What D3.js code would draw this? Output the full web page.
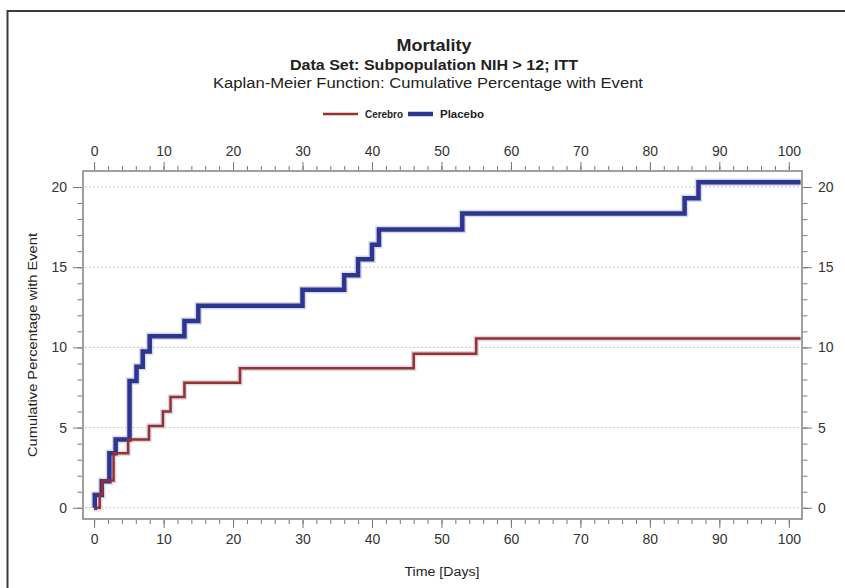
<!DOCTYPE html>
<html>
<head>
<meta charset="utf-8">
<script src="https://cdn.jsdelivr.net/npm/d3@7"></script>
<style>
  body { margin: 0; background: #fff; }
  svg { display: block; font-family: "Liberation Sans", Arial, sans-serif; }
  .axis text { fill: #333; font-size: 14px; }
  .axis line { stroke: #777; }
  .axis path { display: none; }
</style>
</head>
<body>
<svg id="chart"></svg>
<script>
// Kaplan-Meier cumulative % with event
const cerebroDays = [0, 0.8, 1.2, 2.8, 4.9, 7.9, 9.9, 11, 13, 21, 46, 55]
const cerebroPct = [0, 0.86, 1.7, 3.4, 4.25, 5.1, 6.0, 6.9, 7.8, 8.7, 9.6, 10.55]
const placeboDays = [0, 0.1, 1.1, 2.2, 3.1, 5.1, 6.1, 7, 8, 13, 15, 30, 36, 38, 40, 41, 53, 85, 87]
const placeboPct = [0, 0.8, 1.65, 3.4, 4.25, 7.9, 8.8, 9.75, 10.7, 11.65, 12.6, 13.6, 14.5, 15.5, 16.4, 17.35, 18.35, 19.3, 20.3]
const lastDay = 101.7

const xTicks = [0, 10, 20, 30, 40, 50, 60, 70, 80, 90, 100]
const yTicks = [0, 5, 10, 15, 20]

const width = 845, height = 588
const box = {left: 83, right: 802, top: 171, bottom: 519}

const svg = d3.select('#chart').attr('width', width).attr('height', height)

// outer frame (only top and left edges show)
svg.append('path')
  .attr('d', `M7.5,${height} V11 H${width}`)
  .attr('fill', 'none')
  .attr('stroke', '#3a3a3a')
  .attr('stroke-width', 2)

let x = d3.scaleLinear().domain([-1.6, 101.9]).range([box.left, box.right])
let y = d3.scaleLinear().domain([-0.7, 21.0]).range([box.bottom, box.top])

// stretched text: the original font is a little wider than Liberation Sans
function label(px, py, str, size, bold, len, rotate) {
  let t = svg.append('text').attr('text-anchor', 'middle')
    .attr('font-size', size).attr('fill', '#222')
    .attr('font-weight', bold ? 'bold' : 'normal')
    .attr('textLength', len).attr('lengthAdjust', 'spacingAndGlyphs')
    .text(str)
  if (rotate) t.attr('transform', `translate(${px},${py}) rotate(-90)`)
  else t.attr('x', px).attr('y', py)
  return t
}

// titles
label(434, 51, 'Mortality', 17, true, 75)
label(434, 70, 'Data Set: Subpopulation NIH > 12; ITT', 14, true, 288)
label(428, 88, 'Kaplan-Meier Function: Cumulative Percentage with Event', 14, false, 430)

// legend
let legend = [
  {name: 'Cerebro', color: '#9a2f2f', w: 2.5, x0: 323, x1: 358, tx: 365, tw: 38},
  {name: 'Placebo', color: '#2e3590', w: 4.5, x0: 408, x1: 433, tx: 440, tw: 44}
]
legend.forEach(d => {
  svg.append('line').attr('x1', d.x0).attr('x2', d.x1).attr('y1', 114).attr('y2', 114)
    .attr('stroke', d.color).attr('stroke-width', d.w)
  svg.append('text').attr('x', d.tx).attr('y', 118).attr('font-size', 11)
    .attr('font-weight', 'bold').attr('fill', '#222')
    .attr('textLength', d.tw).attr('lengthAdjust', 'spacingAndGlyphs').text(d.name)
})

// grid
svg.append('g').selectAll('line').data(yTicks).enter().append('line')
  .attr('x1', box.left + 2).attr('x2', box.right - 2)
  .attr('y1', d => y(d)).attr('y2', d => y(d))
  .attr('stroke', '#c8c8c8').attr('stroke-dasharray', '2,2')

// axes: majors + minors on all four sides
function addAxis(axisFn, scale, majors, minors, transform, size) {
  let g = svg.append('g').attr('class', 'axis').attr('transform', transform)
  g.call(axisFn(scale).tickValues(minors).tickSize(size / 2).tickFormat(''))
  let g2 = svg.append('g').attr('class', 'axis').attr('transform', transform)
  g2.call(axisFn(scale).tickValues(majors).tickSize(size).tickPadding(6))
  return g2
}
let xMinor = d3.range(0, 101, 2)
let yMinor = d3.range(0, 21, 1)
addAxis(d3.axisBottom, x, xTicks, xMinor, `translate(0,${box.bottom + 1})`, 8)
addAxis(d3.axisTop, x, xTicks, xMinor, `translate(0,${box.top - 1})`, 8)
addAxis(d3.axisLeft, y, yTicks, yMinor, `translate(${box.left - 1},0)`, 9)
addAxis(d3.axisRight, y, yTicks, yMinor, `translate(${box.right + 1},0)`, 9)

// plot box
svg.append('rect').attr('x', box.left).attr('y', box.top)
  .attr('width', box.right - box.left).attr('height', box.bottom - box.top)
  .attr('fill', 'none').attr('stroke', '#808080').attr('stroke-width', 1.5)

// axis titles
label(442, 576, 'Time [Days]', 12.5, false, 75)
label(37, 345, 'Cumulative Percentage with Event', 12.5, false, 224, true)

// curves
let step = d3.line().x(d => x(d[0])).y(d => y(d[1])).curve(d3.curveStepAfter)
function series(days, pct) {
  let pts = days.map((d, i) => [d, pct[i]])
  pts.push([lastDay, pct[pct.length - 1]])
  return pts
}
let curves = [
  {pts: series(placeboDays, placeboPct), color: '#2e3590', w: 4.5},
  {pts: series(cerebroDays, cerebroPct), color: '#9a2f2f', w: 2.5}
]
curves.forEach(c => {
  svg.append('path').attr('d', step(c.pts)).attr('fill', 'none')
    .attr('stroke', '#d8dae6').attr('stroke-width', c.w + 3).attr('stroke-linejoin', 'miter')
})
curves.forEach(c => {
  svg.append('path').attr('d', step(c.pts)).attr('fill', 'none')
    .attr('stroke', c.color).attr('stroke-width', c.w).attr('stroke-linejoin', 'miter')
})
</script>
</body>
</html>
